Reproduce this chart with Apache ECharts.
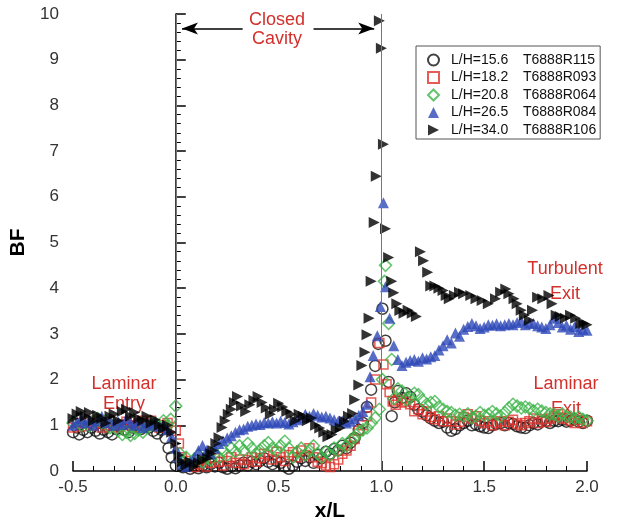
<!DOCTYPE html>
<html>
<head>
<meta http-equiv="content-type" content="text/html; charset=utf-8"/>
<title>BF - x/L</title>
<style type="text/css">body,html{width:100%;height:100%;margin:0;background:#fff}#main{width:644px;height:527px}</style>
<script src="https://cdn.jsdelivr.net/npm/echarts@6/dist/echarts.min.js"></script>
</head>
<body>
<div id="main"></div>
<script>
	// legend names
	var names = ['L/H=15.6 T6888R115', 'L/H=18.2 T6888R093', 'L/H=20.8 T6888R064', 'L/H=26.5 T6888R084', 'L/H=34.0 T6888R106'];

	// [x/L, BF]
	var lh156 = [[-0.50,0.85],[-0.48,0.95],[-0.47,0.8],[-0.45,0.9],[-0.43,0.85],[-0.41,0.95],[-0.39,0.88],[-0.37,0.82],[-0.35,0.9],[-0.33,0.85],[-0.31,0.8],[-0.29,0.92],[-0.27,0.98],[-0.25,0.9],[-0.23,0.85],[-0.21,0.95],[-0.19,1.0],[-0.17,0.92],[-0.15,0.98],[-0.13,0.95],[-0.11,0.88],[-0.09,0.82],[-0.07,0.9],[-0.05,0.72],[-0.035,0.5],[-0.02,0.3],[0.0,0.12],[0.02,0.22],[0.035,0.08],[0.05,0.15],[0.07,0.05],[0.09,0.1],[0.11,0.06],[0.13,0.12],[0.15,0.08],[0.17,0.15],[0.19,0.1],[0.21,0.18],[0.23,0.08],[0.25,0.05],[0.27,0.1],[0.29,0.06],[0.31,0.12],[0.33,0.18],[0.35,0.12],[0.37,0.2],[0.39,0.15],[0.41,0.22],[0.43,0.28],[0.45,0.2],[0.47,0.15],[0.49,0.22],[0.51,0.18],[0.53,0.1],[0.55,0.05],[0.57,0.12],[0.59,0.2],[0.61,0.28],[0.63,0.22],[0.65,0.3],[0.67,0.18],[0.69,0.35],[0.71,0.28],[0.73,0.42],[0.75,0.38],[0.77,0.48],[0.79,0.45],[0.81,0.55],[0.83,0.5],[0.85,0.62],[0.87,0.72],[0.89,0.9],[0.91,1.05],[0.93,1.4],[0.95,1.78],[0.97,2.3],[0.985,2.78],[1.005,3.55],[1.02,2.85],[1.035,1.95],[1.05,1.2],[1.065,1.5],[1.08,1.75],[1.10,1.6],[1.12,1.7],[1.14,1.62],[1.16,1.45],[1.18,1.35],[1.20,1.3],[1.22,1.22],[1.24,1.15],[1.26,1.1],[1.28,1.05],[1.30,1.08],[1.32,0.95],[1.34,0.88],[1.36,0.92],[1.38,1.0],[1.40,1.05],[1.42,1.1],[1.44,1.0],[1.46,1.02],[1.48,0.98],[1.50,0.95],[1.52,0.94],[1.54,1.0],[1.56,1.03],[1.58,1.05],[1.60,1.0],[1.62,1.05],[1.64,1.03],[1.66,0.98],[1.68,0.95],[1.70,0.94],[1.72,1.0],[1.74,1.05],[1.76,1.02],[1.78,1.08],[1.80,1.09],[1.82,1.05],[1.84,1.1],[1.86,1.09],[1.88,1.12],[1.90,1.08],[1.92,1.1],[1.94,1.13],[1.96,1.08],[1.98,1.05],[2.0,1.1]];
	var lh182 = [[-0.50,0.95],[-0.48,1.05],[-0.46,0.98],[-0.44,1.05],[-0.42,1.1],[-0.40,1.0],[-0.38,1.05],[-0.36,0.95],[-0.34,1.0],[-0.32,1.08],[-0.30,1.0],[-0.28,0.95],[-0.26,1.02],[-0.24,1.08],[-0.22,1.0],[-0.20,0.96],[-0.18,1.05],[-0.16,1.1],[-0.14,1.05],[-0.12,1.1],[-0.10,1.02],[-0.08,0.95],[-0.06,1.0],[-0.04,1.05],[-0.02,0.95],[0.0,0.88],[0.015,0.6],[0.03,0.3],[0.05,0.15],[0.07,0.22],[0.09,0.09],[0.11,0.15],[0.13,0.25],[0.15,0.1],[0.17,0.18],[0.19,0.28],[0.21,0.2],[0.23,0.12],[0.25,0.22],[0.27,0.3],[0.29,0.18],[0.31,0.25],[0.33,0.15],[0.35,0.24],[0.37,0.3],[0.39,0.2],[0.41,0.28],[0.43,0.38],[0.45,0.34],[0.47,0.25],[0.49,0.42],[0.51,0.3],[0.53,0.22],[0.55,0.35],[0.57,0.41],[0.59,0.3],[0.61,0.45],[0.63,0.35],[0.65,0.5],[0.67,0.3],[0.69,0.2],[0.71,0.17],[0.73,0.12],[0.75,0.09],[0.77,0.15],[0.79,0.25],[0.81,0.38],[0.83,0.45],[0.85,0.55],[0.87,0.7],[0.89,0.88],[0.91,1.0],[0.93,1.2],[0.95,1.5],[0.97,2.0],[0.99,2.8],[1.01,2.33],[1.025,1.9],[1.04,1.73],[1.055,1.52],[1.07,1.45],[1.08,1.56],[1.10,1.5],[1.12,1.52],[1.14,1.46],[1.16,1.31],[1.18,1.35],[1.20,1.24],[1.22,1.3],[1.24,1.18],[1.26,1.13],[1.28,1.2],[1.30,1.09],[1.32,1.15],[1.34,1.09],[1.36,1.02],[1.38,1.08],[1.40,1.18],[1.42,1.24],[1.44,1.15],[1.46,1.2],[1.48,1.1],[1.50,1.05],[1.52,1.09],[1.54,1.0],[1.56,1.05],[1.58,1.09],[1.60,1.0],[1.62,1.08],[1.64,1.12],[1.66,1.04],[1.68,1.0],[1.70,1.05],[1.72,1.09],[1.74,1.15],[1.76,1.05],[1.78,1.13],[1.80,1.08],[1.82,1.15],[1.84,1.2],[1.86,1.24],[1.88,1.15],[1.90,1.16],[1.92,1.1],[1.94,1.05],[1.96,1.12],[1.98,1.05],[2.0,1.09]];
	var lh208 = [[-0.50,1.05],[-0.48,1.12],[-0.46,1.0],[-0.44,1.08],[-0.42,0.98],[-0.40,1.1],[-0.38,1.15],[-0.36,1.05],[-0.34,1.1],[-0.32,0.95],[-0.30,1.02],[-0.28,0.88],[-0.26,0.8],[-0.24,0.85],[-0.22,0.78],[-0.20,0.82],[-0.18,0.9],[-0.16,0.85],[-0.14,0.95],[-0.12,1.0],[-0.10,1.05],[-0.08,0.98],[-0.06,1.1],[-0.04,1.0],[-0.025,1.13],[0.0,1.42],[0.02,0.38],[0.035,0.2],[0.05,0.3],[0.07,0.15],[0.09,0.25],[0.11,0.35],[0.13,0.2],[0.15,0.3],[0.17,0.25],[0.19,0.38],[0.21,0.3],[0.23,0.45],[0.25,0.35],[0.27,0.5],[0.29,0.42],[0.31,0.55],[0.33,0.45],[0.35,0.6],[0.37,0.5],[0.39,0.38],[0.41,0.45],[0.43,0.55],[0.45,0.62],[0.47,0.5],[0.49,0.45],[0.51,0.55],[0.53,0.65],[0.55,0.5],[0.57,0.3],[0.59,0.42],[0.61,0.5],[0.63,0.35],[0.65,0.45],[0.67,0.55],[0.69,0.38],[0.71,0.3],[0.73,0.42],[0.75,0.35],[0.77,0.5],[0.79,0.45],[0.81,0.6],[0.83,0.55],[0.85,0.68],[0.87,0.73],[0.89,0.85],[0.91,0.9],[0.93,0.94],[0.95,1.05],[0.97,1.16],[0.99,1.35],[1.005,2.0],[1.015,4.15],[1.02,4.5],[1.035,3.23],[1.05,2.44],[1.06,1.58],[1.08,1.8],[1.10,1.75],[1.12,1.56],[1.14,1.6],[1.16,1.7],[1.18,1.67],[1.20,1.55],[1.22,1.46],[1.24,1.5],[1.26,1.52],[1.28,1.4],[1.30,1.35],[1.32,1.3],[1.34,1.28],[1.36,1.22],[1.38,1.24],[1.40,1.2],[1.42,1.25],[1.44,1.16],[1.46,1.2],[1.48,1.28],[1.50,1.22],[1.52,1.24],[1.54,1.3],[1.56,1.25],[1.58,1.2],[1.60,1.28],[1.62,1.38],[1.64,1.46],[1.66,1.42],[1.68,1.38],[1.70,1.4],[1.72,1.37],[1.74,1.32],[1.76,1.35],[1.78,1.31],[1.80,1.28],[1.82,1.25],[1.84,1.24],[1.86,1.2],[1.88,1.25],[1.90,1.2],[1.92,1.18],[1.94,1.15],[1.96,1.18],[1.98,1.13],[2.0,1.1]];
	var lh265 = [[-0.50,1.0],[-0.48,1.08],[-0.46,1.15],[-0.44,1.05],[-0.42,1.12],[-0.40,1.0],[-0.38,1.1],[-0.36,1.2],[-0.34,1.05],[-0.32,1.12],[-0.30,1.0],[-0.28,1.08],[-0.26,1.02],[-0.24,1.15],[-0.22,1.05],[-0.20,1.0],[-0.18,1.1],[-0.16,0.95],[-0.14,1.05],[-0.12,1.0],[-0.10,1.08],[-0.08,0.98],[-0.06,1.0],[-0.04,0.9],[-0.02,0.75],[0.0,0.5],[0.015,0.3],[0.03,0.15],[0.05,0.1],[0.07,0.2],[0.09,0.3],[0.11,0.45],[0.13,0.56],[0.15,0.45],[0.17,0.38],[0.19,0.5],[0.21,0.6],[0.23,0.66],[0.25,0.72],[0.27,0.77],[0.29,0.85],[0.31,0.9],[0.33,0.92],[0.35,0.98],[0.37,1.0],[0.39,1.03],[0.41,1.02],[0.43,1.06],[0.45,1.05],[0.47,1.08],[0.49,1.05],[0.51,1.09],[0.53,1.06],[0.55,1.03],[0.57,1.08],[0.59,1.12],[0.61,1.16],[0.63,1.24],[0.65,1.2],[0.67,1.26],[0.69,1.22],[0.71,1.18],[0.73,1.2],[0.75,1.16],[0.77,1.12],[0.79,1.09],[0.81,1.1],[0.83,1.05],[0.85,1.09],[0.87,1.15],[0.89,1.22],[0.91,1.3],[0.93,1.46],[0.945,2.06],[0.96,2.53],[0.98,2.96],[0.995,3.6],[1.01,5.87],[1.02,4.03],[1.04,3.34],[1.06,2.74],[1.08,2.44],[1.10,2.31],[1.12,2.38],[1.14,2.42],[1.16,2.44],[1.18,2.4],[1.20,2.48],[1.22,2.45],[1.24,2.5],[1.26,2.53],[1.28,2.65],[1.30,2.74],[1.32,2.87],[1.34,2.8],[1.36,3.02],[1.38,2.95],[1.40,3.1],[1.42,3.16],[1.44,3.23],[1.46,3.18],[1.48,3.12],[1.50,3.15],[1.52,3.2],[1.54,3.19],[1.56,3.22],[1.58,3.18],[1.60,3.2],[1.62,3.23],[1.64,3.2],[1.66,3.25],[1.68,3.28],[1.70,3.2],[1.72,3.24],[1.74,3.23],[1.76,3.18],[1.78,3.15],[1.80,3.12],[1.82,3.2],[1.84,3.34],[1.86,3.25],[1.88,3.15],[1.90,3.19],[1.92,3.1],[1.94,3.16],[1.96,3.05],[1.98,3.1],[2.0,3.08]];
	var lh340 = [[-0.50,1.15],[-0.48,1.25],[-0.46,1.3],[-0.44,1.2],[-0.42,1.28],[-0.40,1.1],[-0.38,1.22],[-0.36,1.15],[-0.34,1.05],[-0.32,1.2],[-0.30,1.25],[-0.28,1.1],[-0.26,1.3],[-0.24,1.35],[-0.22,1.2],[-0.20,1.28],[-0.18,1.15],[-0.16,1.1],[-0.14,1.2],[-0.12,1.05],[-0.10,1.12],[-0.08,1.0],[-0.06,0.92],[-0.04,1.0],[-0.02,0.85],[0.0,0.6],[0.015,0.35],[0.03,0.2],[0.05,0.12],[0.07,0.2],[0.09,0.1],[0.11,0.18],[0.13,0.25],[0.155,0.28],[0.17,0.38],[0.18,0.45],[0.195,0.6],[0.21,0.73],[0.225,0.95],[0.24,1.1],[0.255,1.24],[0.27,1.35],[0.285,1.5],[0.30,1.63],[0.32,1.42],[0.34,1.3],[0.36,1.45],[0.38,1.55],[0.40,1.63],[0.42,1.5],[0.44,1.38],[0.46,1.24],[0.48,1.35],[0.50,1.48],[0.52,1.4],[0.54,1.3],[0.56,1.24],[0.58,1.1],[0.60,1.24],[0.62,1.2],[0.64,1.1],[0.66,1.16],[0.68,1.0],[0.70,0.94],[0.72,0.85],[0.74,0.75],[0.76,0.8],[0.78,0.9],[0.80,0.94],[0.82,1.09],[0.84,1.2],[0.86,1.26],[0.87,1.56],[0.89,1.88],[0.905,2.31],[0.92,2.6],[0.93,2.98],[0.94,3.34],[0.95,4.15],[0.965,5.44],[0.975,6.45],[0.99,9.85],[1.0,9.25],[1.01,7.15],[1.02,5.3],[1.035,4.67],[1.05,4.15],[1.06,3.9],[1.075,3.66],[1.09,3.51],[1.11,3.45],[1.13,3.52],[1.15,3.45],[1.17,3.38],[1.19,4.8],[1.205,4.6],[1.225,4.35],[1.24,4.05],[1.26,4.05],[1.28,4.0],[1.30,3.95],[1.315,3.84],[1.33,3.77],[1.355,3.84],[1.38,3.91],[1.40,3.88],[1.435,3.84],[1.46,3.77],[1.49,3.73],[1.52,3.66],[1.555,3.77],[1.58,3.91],[1.605,3.98],[1.62,3.88],[1.645,3.77],[1.66,3.66],[1.68,3.52],[1.695,3.41],[1.72,3.3],[1.735,3.52],[1.76,3.8],[1.785,3.77],[1.815,3.84],[1.83,3.66],[1.85,3.41],[1.87,3.38],[1.895,3.34],[1.92,3.41],[1.945,3.34],[1.97,3.23],[1.985,3.23],[2.0,3.2]];

	var FONT = '"Liberation Sans", Arial, sans-serif';
	var RED = '#d3302b';

	var myChart = echarts.init(document.getElementById('main'));

	function hollow(name, data, symbol, size, color) {
		return {
			name: name, type: 'scatter', data: data,
			symbol: symbol, symbolSize: size,
			itemStyle: {color: 'rgba(255,255,255,0)', borderColor: color, borderWidth: 1.5}
		};
	}
	function filled(name, data, symbol, size, color) {
		return {
			name: name, type: 'scatter', data: data,
			symbol: symbol, symbolSize: size,
			itemStyle: {color: color}
		};
	}

	var series = [
		hollow(names[0], lh156, 'circle', 11, '#111'),
		hollow(names[1], lh182, 'rect', 9, '#e0322a'),
		hollow(names[2], lh208, 'diamond', 12, '#3fb54a'),
		filled(names[3], lh265, 'triangle', 11, '#2e48b8'),
		filled(names[4], lh340, 'path://M0,0L10,5L0,10Z', 11, '#000')
	];
	// cavity edges and arrows
	series[0].markLine = {
		silent: true, symbol: 'none', label: {show: false},
		lineStyle: {color: '#777', width: 1, type: 'solid'},
		data: [{xAxis: 0}, {xAxis: 1}]
	};
	series[1].markLine = {
		silent: true, label: {show: false},
		lineStyle: {color: '#000', width: 1.5, type: 'solid'},
		symbolSize: [9, 16],
		data: [
			[{coord: [0.03, 9.68], symbol: 'arrow'}, {coord: [0.325, 9.68], symbol: 'none'}],
			[{coord: [0.67, 9.68], symbol: 'none'}, {coord: [0.965, 9.68], symbol: 'arrow'}]
		]
	};

	var option = {
		backgroundColor: '#fff',
		animation: false,
		textStyle: {fontFamily: FONT},
		grid: {left: 73, right: 57, top: 14, bottom: 46},
		legend: {
			orient: 'vertical', left: 416, top: 46,
			data: names,
			itemWidth: 11, itemHeight: 11, itemGap: 3.5,
			padding: [7, 4, 2, 11],
			borderColor: '#555', borderWidth: 1,
			textStyle: {
				fontSize: 14, color: '#111',
				rich: {
					s: {width: 7},
					a: {width: 72, fontSize: 14, color: '#111'},
					b: {fontSize: 14, color: '#111'}
				}
			},
			formatter: function (n) {
				var p = n.split(' ');
				return '{s|}{a|' + p[0] + '}{b|' + p[1] + '}';
			}
		},
		xAxis: {
			type: 'value', min: -0.5, max: 2.0, interval: 0.5,
			name: 'x/L', nameLocation: 'middle', nameGap: 30,
			nameTextStyle: {fontSize: 21, fontWeight: 'bold', color: '#000'},
			axisLine: {lineStyle: {color: '#000', width: 1.5}},
			axisTick: {inside: true, length: 10, lineStyle: {color: '#000', width: 1.5}},
			minorTick: {show: true, splitNumber: 5, length: 5, lineStyle: {color: '#000', width: 1}},
			splitLine: {show: false},
			axisLabel: {fontSize: 17, color: '#333', margin: 8, formatter: function (v) { return v.toFixed(1); }}
		},
		yAxis: {
			type: 'value', min: 0, max: 10, interval: 1,
			name: 'BF', nameLocation: 'middle', nameGap: 28,
			nameTextStyle: {fontSize: 21, fontWeight: 'bold', color: '#000'},
			axisLine: {lineStyle: {color: '#000', width: 1.5}},
			axisTick: {inside: true, length: 10, lineStyle: {color: '#000', width: 1.5}},
			minorTick: {show: true, splitNumber: 5, length: 5, lineStyle: {color: '#000', width: 1}},
			splitLine: {show: false},
			axisLabel: {fontSize: 17, color: '#333', margin: 14}
		},
		graphic: [
			{type: 'text', x: 277, y: 11, style: {text: 'Closed\nCavity', fill: RED, font: '18px ' + FONT, align: 'center', lineHeight: 19}},
			{type: 'text', x: 124, y: 374, style: {text: 'Laminar\nEntry', fill: RED, font: '18px ' + FONT, align: 'center', lineHeight: 20}},
			{type: 'text', x: 565, y: 257, style: {text: 'Turbulent\nExit', fill: RED, font: '18px ' + FONT, align: 'center', lineHeight: 25}},
			{type: 'text', x: 566, y: 372, style: {text: 'Laminar\nExit', fill: RED, font: '18px ' + FONT, align: 'center', lineHeight: 25}}
		],
		series: series
	};
	myChart.setOption(option);
</script>
</body>
</html>
